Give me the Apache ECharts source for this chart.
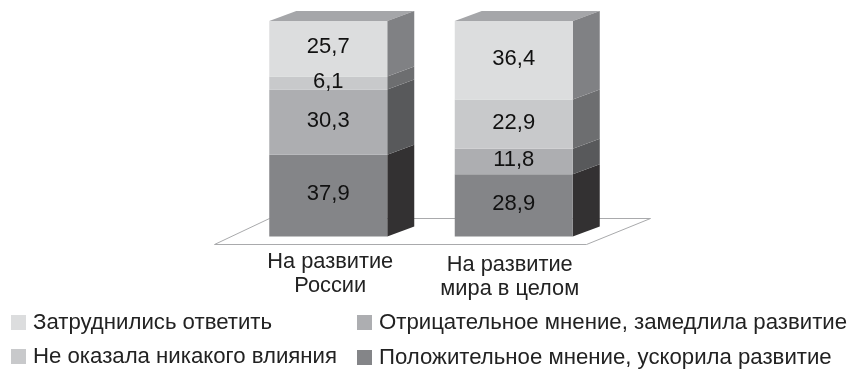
<!DOCTYPE html>
<html><head><meta charset="utf-8">
<style>html,body{margin:0;padding:0;background:#fff}#c{width:849px;height:369px}</style>
<script src="https://cdn.jsdelivr.net/npm/echarts@6/dist/echarts.min.js"></script></head>
<body><div id="c"></div>
<script>
const categories = ['На развитие\nРоссии', 'На развитие\nмира в целом'];
const positive = [37.9, 28.9];
const negative = [30.3, 11.8];
const noEffect = [6.1, 22.9];
const hardToSay = [25.7, 36.4];
const stackOrder = [
  {name:'Положительное мнение, ускорила развитие', values:positive, front:'#848588', side:'#333132'},
  {name:'Отрицательное мнение, замедлила развитие', values:negative, front:'#adaeb1', side:'#58595b'},
  {name:'Не оказала никакого влияния', values:noEffect, front:'#c8c9cb', side:'#6d6e70'},
  {name:'Затруднились ответить', values:hardToSay, front:'#dcddde', side:'#808184'}
];
const DX = 27, DY = -10, BAR_W = 118, FONT = '"Liberation Sans", Arial, sans-serif';

function segment(s){
  return function(params, api){
    const i = api.value(0), lo = api.value(1), hi = api.value(2);
    const c = api.coord([i, hi]), b = api.coord([i, lo]);
    const x0 = c[0]-BAR_W/2, x1 = c[0]+BAR_W/2, yt = c[1], yb = b[1];
    const kids = [
      {type:'polygon', shape:{points:[[x1,yt],[x1+DX,yt+DY],[x1+DX,yb+DY],[x1,yb]]}, style:{fill:s.side}},
      {type:'rect', shape:{x:x0,y:yt,width:BAR_W,height:yb-yt}, style:{fill:s.front}},
      {type:'text', x:c[0], y:(yt+yb)/2-1.5, style:{text:String(api.value(3)).replace('.',','), fill:'#111', font:'22px '+FONT, align:'center', verticalAlign:'middle'}, z2:10}
    ];
    if (hi >= 99.99) kids.unshift({type:'polygon', shape:{points:[[x0,yt],[x0+DX,yt+DY],[x1+DX,yt+DY],[x1,yt]]}, style:{fill:'#a5a6a9'}});
    return {type:'group', children:kids};
  };
}

let running = [0,0];
const barSeries = stackOrder.map(s=>{
  const data = s.values.map((v,i)=>{ const r=[i,running[i],running[i]+v,v]; running[i]+=v; return r; });
  return {name:s.name, type:'custom', coordinateSystem:'cartesian2d', z:3, itemStyle:{color:s.front},
    encode:{x:0,y:[1,2]}, data, renderItem:segment(s), silent:true, animation:false};
});
const floorSeries = {type:'custom', coordinateSystem:'cartesian2d', z:1, silent:true, animation:false, data:[[0,0,0]], encode:{x:0,y:1},
  renderItem:function(params, api){
    const cs = params.coordSys, yb = cs.y+cs.height;
    return {type:'polygon', shape:{points:[[cs.x-21,yb+8],[cs.x+351,yb+8],[cs.x+415,yb-18],[cs.x+34,yb-18]]},
      style:{fill:'#fff',stroke:'#a9aaac',lineWidth:1}};
  }};
const legendText = {fontFamily:FONT, fontSize:22.2, color:'#222', padding:[0,0,0,2]};
function oneLegend(name, left, top){
  return {left, top, itemWidth:15, itemHeight:15, itemStyle:{borderWidth:0}, itemGap:0, textStyle:legendText, selectedMode:false, icon:'rect', padding:0, data:[name]};
}
const labelPads = [[0,0,0,4],[3,8,0,0]];
const option = {
  animation:false,
  backgroundColor:'#fff',
  grid:{left:235.5, width:371, top:21, height:215.5},
  xAxis:{type:'category', data:categories.map((c,i)=>({value:c, textStyle:{padding:labelPads[i]}})), axisLine:{show:false}, axisTick:{show:false},
    axisLabel:{margin:13, fontFamily:FONT, fontSize:21.8, lineHeight:24.5, color:'#222', interval:0}},
  yAxis:{type:'value', min:0, max:100, show:false},
  legend:[
    oneLegend('Затруднились ответить', 11, 311.5),
    oneLegend('Не оказала никакого влияния', 11, 345.5),
    oneLegend('Отрицательное мнение, замедлила развитие', 357, 311.5),
    oneLegend('Положительное мнение, ускорила развитие', 357, 346.5)
  ],
  series:[floorSeries].concat(barSeries)
};
echarts.init(document.getElementById('c')).setOption(option);
</script></body></html>
